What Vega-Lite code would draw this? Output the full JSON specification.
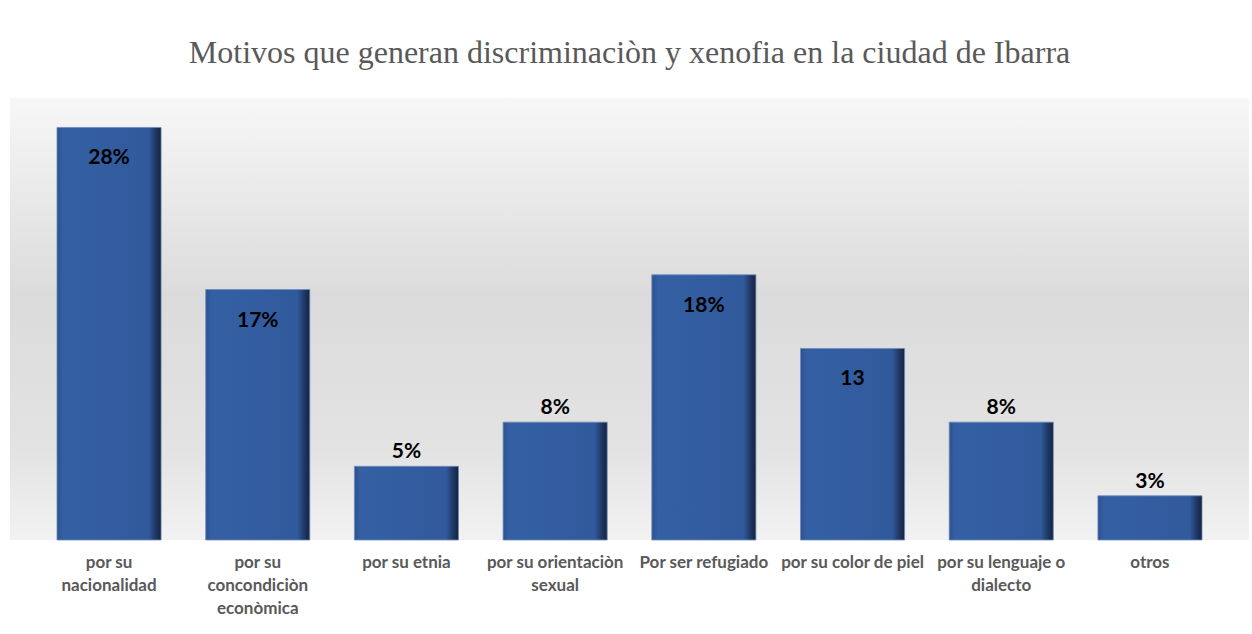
{
  "$schema": "https://vega.github.io/schema/vega-lite/v6.json",
  "autosize": {"type": "none"},
  "width": 1239,
  "height": 442,
  "padding": {"left": 10, "top": 98, "right": 3, "bottom": 94},
  "background": "#ffffff",
  "title": {
    "text": "Motivos que generan discriminaciòn y xenofia en la ciudad de Ibarra",
    "font": "Liberation Serif",
    "fontSize": 32,
    "fontWeight": "normal",
    "color": "#595959",
    "anchor": "middle",
    "frame": "group",
    "offset": 28
  },
  "data": {
    "values": [
      {"motivo": "por su nacionalidad", "valor": 28, "etiqueta": "28%"},
      {"motivo": "por su concondiciòn econòmica", "valor": 17, "etiqueta": "17%"},
      {"motivo": "por su etnia", "valor": 5, "etiqueta": "5%"},
      {"motivo": "por su orientaciòn sexual", "valor": 8, "etiqueta": "8%"},
      {"motivo": "Por ser refugiado", "valor": 18, "etiqueta": "18%"},
      {"motivo": "por su color de piel", "valor": 13, "etiqueta": "13"},
      {"motivo": "por su lenguaje o dialecto", "valor": 8, "etiqueta": "8%"},
      {"motivo": "otros", "valor": 3, "etiqueta": "3%"}
    ]
  },
  "encoding": {
    "x": {
      "field": "motivo",
      "type": "nominal",
      "sort": null,
      "scale": {"paddingInner": 0.3, "paddingOuter": 0.316},
      "axis": {
        "title": null,
        "domain": false,
        "ticks": false,
        "labelAngle": 0,
        "labelFont": "Lato",
        "labelFontWeight": "bold",
        "labelFontSize": 17,
        "labelColor": "#595959",
        "labelPadding": 14,
        "labelLineHeight": 23,
        "labelBaseline": "top",
        "labelLimit": 200,
        "labelExpr": "datum.label == 'por su nacionalidad' ? ['por su', 'nacionalidad'] : datum.label == 'por su concondiciòn econòmica' ? ['por su', 'concondiciòn', 'econòmica'] : datum.label == 'por su orientaciòn sexual' ? ['por su orientaciòn', 'sexual'] : datum.label == 'por su lenguaje o dialecto' ? ['por su lenguaje o', 'dialecto'] : datum.label"
      }
    },
    "y": {
      "field": "valor",
      "type": "quantitative",
      "scale": {"domain": [0, 30], "nice": false},
      "axis": null
    }
  },
  "layer": [
    {
      "mark": {
        "type": "bar",
        "color": {
          "gradient": "linear",
          "x1": 0, "y1": 0, "x2": 1, "y2": 0,
          "stops": [
            {"offset": 0, "color": "#2c528f"},
            {"offset": 0.06, "color": "#3460a3"},
            {"offset": 0.88, "color": "#315a9c"},
            {"offset": 0.95, "color": "#1f3763"},
            {"offset": 1, "color": "#15233d"}
          ]
        },
        "stroke": "#6f8bbd",
        "strokeWidth": 0.8
      }
    },
    {
      "transform": [{"filter": "datum.valor >= 10"}],
      "mark": {
        "type": "text",
        "font": "Lato",
        "fontWeight": "bold",
        "fontSize": 21,
        "color": "#000000",
        "baseline": "middle",
        "dy": 31
      },
      "encoding": {"text": {"field": "etiqueta"}}
    },
    {
      "transform": [{"filter": "datum.valor < 10"}],
      "mark": {
        "type": "text",
        "font": "Lato",
        "fontWeight": "bold",
        "fontSize": 21,
        "color": "#000000",
        "baseline": "middle",
        "dy": -14
      },
      "encoding": {"text": {"field": "etiqueta"}}
    }
  ],
  "config": {
    "view": {
      "stroke": null,
      "fill": {
        "gradient": "linear",
        "x1": 0, "y1": 0, "x2": 0, "y2": 1,
        "stops": [
          {"offset": 0, "color": "#f7f7f7"},
          {"offset": 0.45, "color": "#dbdbdb"},
          {"offset": 0.8, "color": "#e3e3e3"},
          {"offset": 1, "color": "#f2f2f2"}
        ]
      }
    }
  }
}
